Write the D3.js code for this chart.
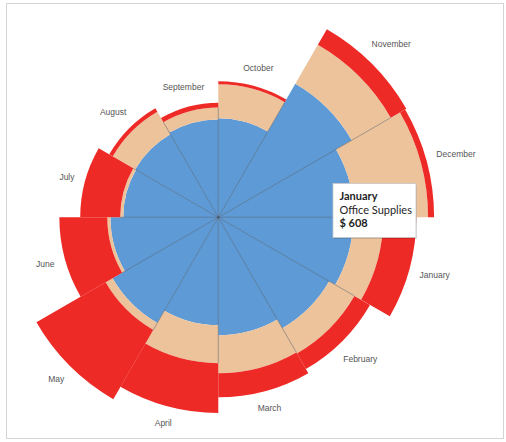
<!DOCTYPE html>
<html>
<head>
<meta charset="utf-8">
<script src="https://cdn.jsdelivr.net/npm/d3@7"></script>
<style>
  html, body { margin: 0; padding: 0; background: #fff; }
  svg { display: block; }
</style>
</head>
<body>
<svg id="chart" width="506" height="442"></svg>
<script>
// Months run clockwise from the top, fiscal order starting in October
const months = ["October", "November", "December", "January", "February", "March",
                "April", "May", "June", "July", "August", "September"];

// Monthly sales by category (USD)
const officeSupplies = [446, 694, 612, 608, 577, 532, 486, 550, 486, 428, 432, 441];
const furniture      = [153, 203, 333, 135, 131, 171, 171,  36,  14,  14, 117,  54];
const technology     = [ 14,  81,  27, 149,  81, 108, 225, 360, 216, 180,  18,  21];

const categories = ["Office Supplies", "Furniture", "Technology"];
const colors = ["#5e9bd6", "#ecc39b", "#ee2a26"];

// Tooltip shown for one highlighted mark
const tipMonth = "January";
const tipCategory = "Office Supplies";

const rows = months.map((m, i) => ({
  month: m,
  "Office Supplies": officeSupplies[i],
  "Furniture": furniture[i],
  "Technology": technology[i]
}));

const svg = d3.select("#chart");
const W = 506, H = 442;
const cx = 218.3, cy = 217.3;

// frame
svg.append("rect")
  .attr("x", 6.5).attr("y", 3.5)
  .attr("width", 497).attr("height", 435)
  .attr("fill", "none").attr("stroke", "#d4d4d4").attr("stroke-width", 1);

const g = svg.append("g").attr("transform", `translate(${cx},${cy})`);

const angle = d3.scaleBand().domain(months).range([0, 2 * Math.PI]).padding(0);
const radius = d3.scaleLinear().domain([0, 1000]).range([0, 222]);
const color = d3.scaleOrdinal().domain(categories).range(colors);

const series = d3.stack().keys(categories)(rows);

const arc = d3.arc()
  .innerRadius(d => radius(d[0]))
  .outerRadius(d => radius(d[1]))
  .startAngle(d => angle(d.data.month))
  .endAngle(d => angle(d.data.month) + angle.bandwidth());

g.selectAll("g.layer")
  .data(series)
  .join("g")
  .attr("class", "layer")
  .attr("fill", d => color(d.key))
  .selectAll("path")
  .data(d => d)
  .join("path")
  .attr("d", arc);

// radial separators between months, reaching through the lower two layers
const lower = series[1];
g.selectAll("line.sep")
  .data(months)
  .join("line")
  .attr("class", "sep")
  .each(function (m, i) {
    const prev = (i + months.length - 1) % months.length;
    const r = Math.min(radius(lower[i][1]), radius(lower[prev][1]));
    const a = angle(m) - Math.PI / 2;
    d3.select(this)
      .attr("x1", 0).attr("y1", 0)
      .attr("x2", r * Math.cos(a)).attr("y2", r * Math.sin(a));
  })
  .attr("stroke", "rgba(45,55,70,0.5)")
  .attr("stroke-width", 0.8);

// month labels just outside each wedge
const totals = rows.map(r => categories.reduce((s, k) => s + r[k], 0));
g.selectAll("text.month")
  .data(months)
  .join("text")
  .attr("class", "month")
  .text(d => d)
  .attr("font-family", "Liberation Sans, Arial, sans-serif")
  .attr("font-size", 8.5)
  .attr("fill", "#555")
  .attr("text-anchor", "middle")
  .attr("dominant-baseline", "central")
  .each(function (m, i) {
    const w = this.getComputedTextLength();
    const a = angle(m) + angle.bandwidth() / 2;
    const pad = 10 + (w / 2) * Math.abs(Math.sin(a)) + 5 * Math.abs(Math.cos(a));
    const r = radius(totals[i]) + pad;
    d3.select(this)
      .attr("x", r * Math.sin(a))
      .attr("y", -r * Math.cos(a));
  });

// tooltip
const ti = months.indexOf(tipMonth);
const tipValue = rows[ti][tipCategory];
const tip = svg.append("g").attr("transform", "translate(333,183.5)");
tip.append("rect")
  .attr("x", 1).attr("y", 1.5).attr("width", 83).attr("height", 54)
  .attr("fill", "rgba(0,0,0,0.12)");
tip.append("rect")
  .attr("width", 83).attr("height", 54)
  .attr("fill", "#fff").attr("stroke", "#c8c8c8").attr("stroke-width", 0.8);
const tipLines = [
  { t: tipMonth, w: "bold" },
  { t: tipCategory, w: "normal" },
  { t: "$ " + d3.format(",")(tipValue), w: "bold" }
];
tip.selectAll("text")
  .data(tipLines)
  .join("text")
  .attr("x", 6.5)
  .attr("y", (d, i) => 16.5 + i * 13.5)
  .attr("font-family", "Lato, 'Open Sans', sans-serif")
  .attr("font-size", 11)
  .attr("font-weight", d => d.w)
  .attr("fill", "#1e1e1e")
  .text(d => d.t);
</script>
</body>
</html>
